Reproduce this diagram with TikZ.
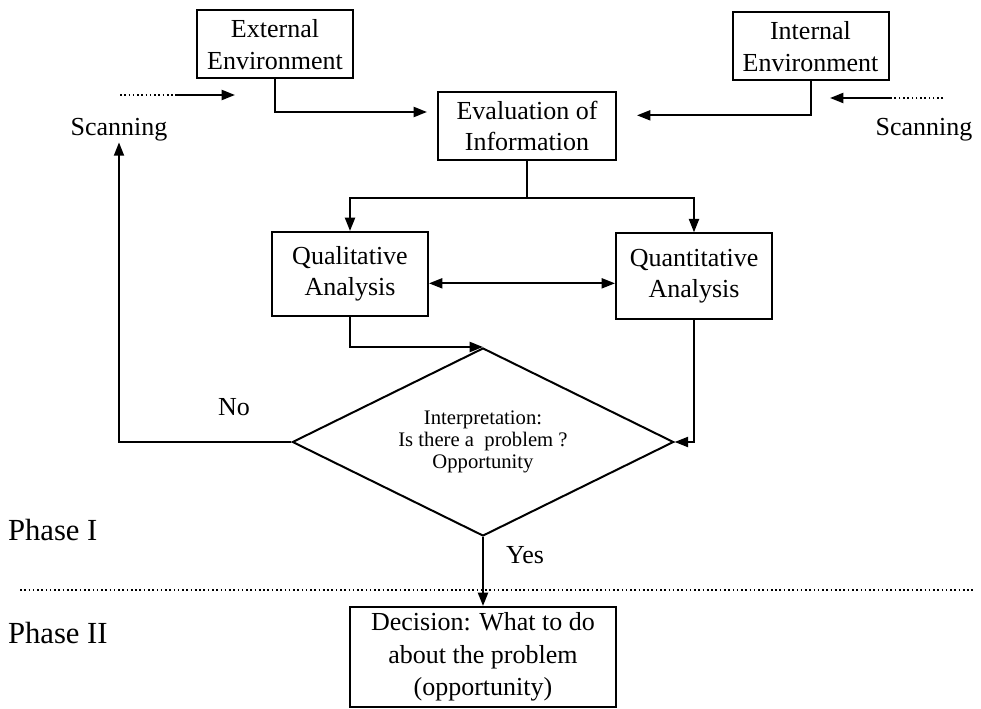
\documentclass[tikz,border=0pt]{standalone}
\usepackage{fontspec}
\setmainfont{Liberation Serif}
\usetikzlibrary{arrows.meta,shapes.geometric}

\begin{document}
\begin{tikzpicture}[x=0.75pt,y=-0.75pt,line width=1.5pt,
    box/.style={draw, rectangle, align=center, inner sep=2pt,
      minimum width=117pt, minimum height=51pt,
      font=\fontsize{19.5}{23.5}\selectfont},
    lbl/.style={inner sep=0pt, font=\fontsize{19.5}{23.5}\selectfont},
    phase/.style={anchor=west, inner sep=0pt, font=\fontsize{23}{27}\selectfont},
    arr/.style={-{Triangle[length=10pt,width=7.5pt]}},
    dots/.style={line width=1.2pt, dash pattern=on 1.2pt off 2pt},
  ]
  \useasboundingbox (0,0) rectangle (981,709);

  % Boxes
  \node[box] (ext) at (275,44.5) {External\\Environment};
  \node[box] (int) at (810.5,46.5) {Internal\\Environment};
  \node[box, minimum width=133.5pt] (eval) at (527,126) {Evaluation of\\Information};
  \node[box, minimum height=63pt] (qual) at (350,274) {Qualitative\\Analysis};
  \node[box, minimum height=64pt] (quant) at (694,276) {Quantitative\\Analysis};
  \node[draw, diamond, shape aspect=2.03, inner sep=0pt, align=center,
    minimum width=286pt, minimum height=141pt,
    font=\fontsize{15.5}{16.5}\selectfont] (dia) at (483,442)
    {Interpretation:\\Is there a\ \ problem ?\\Opportunity};
  \node[box, minimum width=200pt, minimum height=75pt,
    font=\fontsize{19.5}{24.5}\selectfont] (dec) at (483,657)
    {Decision: What to do\\about the problem\\(opportunity)};

  % Labels
  \node[lbl] (scanL) at (119,130) {Scanning};
  \node[lbl] (scanR) at (924,130) {Scanning};
  \node[lbl] (no) at (234,407) {No};
  \node[lbl] (yes) at (525,555) {Yes};
  \node[phase] (ph1) at (7,530) {Phase I};
  \node[phase] (ph2) at (7,633) {Phase II};

  % Scanning inputs
  \coordinate (dotL) at (120,95);
  \coordinate (solL) at (175,95);
  \coordinate (tipL) at (235,95);
  \coordinate (dotR) at (943,98);
  \coordinate (solR) at (890,98);
  \coordinate (tipR) at (830,98);
  \draw[dots] (dotL) -- (solL);
  \draw[arr] (solL) -- (tipL);
  \draw[dots] (dotR) -- (solR);
  \draw[arr] (solR) -- (tipR);

  % Phase separator
  \coordinate (sepL) at (20,590);
  \coordinate (sepR) at (975,590);
  \draw[dots] (sepL) -- (sepR);

  % Connectors
  \draw[arr, shorten >=7.5pt] (ext.south) |- ([yshift=10.5pt]eval.west);
  \draw[arr, shorten >=15pt] (int.south) |- ([yshift=8pt]eval.east);
  \coordinate (split) at (eval.south |- 0,198);
  \draw (eval.south) -- (split);
  \draw[arr] (split) -| (qual.north);
  \draw[arr] (split) -| (quant.north);
  \draw[{Triangle[length=10pt,width=7.5pt]}-{Triangle[length=10pt,width=7.5pt]}]
    ([yshift=-7pt]qual.east) -- ([yshift=-7pt]qual.east -| quant.west);
  \draw[arr] (qual.south) |- (dia.north);
  \draw[arr] (quant.south) |- (dia.east);
  \draw[arr] (dia.west) -| (scanL.south);
  \draw[arr] (dia.south) -- (dec.north);
\end{tikzpicture}
\end{document}
